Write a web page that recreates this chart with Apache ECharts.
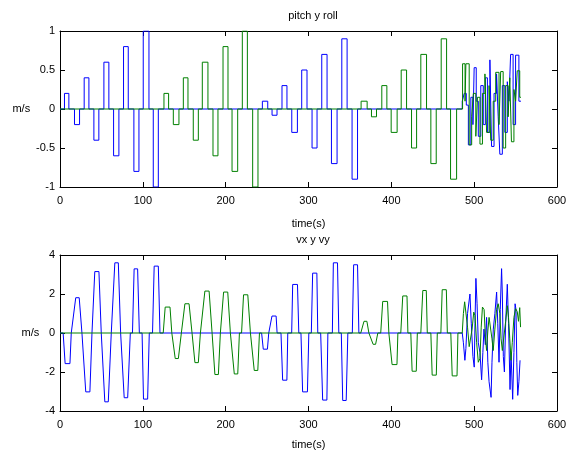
<!DOCTYPE html>
<html>
<head>
<meta charset="utf-8">
<script src="https://cdn.jsdelivr.net/npm/echarts@6/dist/echarts.min.js"></script>
<style>
  html, body { margin: 0; padding: 0; background: #fff; }
  #chart { width: 570px; height: 456px; }
</style>
</head>
<body>
<div id="chart"></div>
<script>
// x / y ticks
const timeTicks = [0, 100, 200, 300, 400, 500, 600];
const pitchTicks = [-1, -0.5, 0, 0.5, 1];
const velTicks = [-4, -2, 0, 2, 4];

// top plot: rectangular pulses [start, end, value]
const pitchPulsesA = [
  [5.4, 10.7, 0.2], [17.5, 23.6, -0.2], [29.2, 34.9, 0.4], [40.9, 46.9, -0.4],
  [53, 59, 0.6], [64.7, 71.1, -0.6], [76.7, 82.4, 0.8], [89.2, 95.3, -0.8],
  [100.5, 107.4, 1.0], [112.6, 118.7, -1.0],
  [244.3, 250.8, 0.1], [256, 262, -0.08], [268, 274, 0.3], [279.8, 286.6, -0.3],
  [291.8, 298.2, 0.5], [304.3, 310.3, -0.5], [316, 322.4, 0.7], [327.7, 334.5, -0.7],
  [340.2, 346.6, 0.9], [352.6, 359.2, -0.9]
];
const rollPulsesA = [
  [125.5, 131.1, 0.2], [136.8, 143.6, -0.2], [148.9, 154.5, 0.4], [160.9, 167, -0.4],
  [171.8, 178.6, 0.6], [184.7, 190.7, -0.6], [196.8, 202.8, 0.8], [207.7, 214.5, -0.8],
  [220.1, 226.2, 1.0], [232.6, 239, -1.0],
  [363.5, 370.8, 0.1], [376, 382.1, -0.1], [388.5, 394.6, 0.3], [399.8, 407, -0.3],
  [411.9, 418.4, 0.5], [424.4, 430.5, -0.5], [435.6, 442.5, 0.7], [447.7, 454.2, -0.7],
  [460.2, 466.7, 0.9], [471.5, 478.8, -0.9]
];
// top plot: last irregular part [time, value] (held until next time)
const pitchTail = [
  [485.6, 0.1], [488, 0.2], [490.5, 0.05], [493, -0.46], [496, 0.15], [498.5, -0.2],
  [500, 0.53], [502.5, 0.1], [505, -0.35], [508, 0.3], [511, -0.2], [513.5, 0.4],
  [516, -0.3], [519, 0.63], [521, -0.48], [524, 0.2], [527, 0.45], [529, -0.1],
  [531, -0.58], [534, 0.3], [537, -0.3], [540, 0.35], [542, 0.1], [544, 0.7],
  [547, -0.2], [550, 0.69], [554, 0.1], [556.5, 0.1]
];
const rollTail = [
  [486, 0.58], [489, 0.1], [490, 0.58], [494, -0.46], [497, -0.1], [499, 0.2],
  [502, -0.35], [504, 0.15], [507, -0.45], [510, 0.2], [513, 0.45], [515, -0.3],
  [518, 0.3], [520, -0.4], [523, 0.1], [526, 0.47], [530, -0.2], [532, 0.48],
  [535, -0.5], [538, 0.3], [541, -0.1], [543, 0.4], [545, -0.42], [548, 0.25],
  [550, 0.1], [552, 0.49], [555, 0.15], [556.5, 0.15]
];

// bottom plot: pulses [zero start, reach peak, leave peak, zero end, peak]
const vxPulses = [
  [3.8, 6.2, 12, 13.6, -1.57], [15.8, 19, 23.2, 26.5, 1.81],
  [28.7, 31.1, 36.1, 38.6, -3.02], [40, 42, 47, 49.8, 3.15],
  [52.1, 54.1, 58.3, 61.9, -3.53], [64.1, 66.2, 70.4, 73.2, 3.6],
  [75.4, 77.5, 81.7, 84.9, -3.32], [87.5, 89.5, 93.7, 95.8, 3.29],
  [99.1, 100.8, 105.8, 107.8, -3.39], [111.7, 113.7, 118.7, 120.7, 3.43],
  [243.4, 245.4, 250.4, 252, -0.83], [254.3, 255.9, 260.9, 262.1, 0.87],
  [266.8, 268.8, 273.9, 275, -2.42], [279.7, 280.9, 286.7, 288.3, 2.49],
  [290.9, 292.9, 298.7, 300.4, -3.02], [303.4, 305, 310.1, 311.2, 3.07],
  [314.7, 317.1, 322.2, 323.4, -3.44], [328.8, 330, 335, 336.6, 3.6],
  [339.6, 341.3, 345.5, 347.5, -3.46], [352.9, 354.5, 359.2, 360.8, 3.5]
];
const vyPulses = [
  [124.6, 127, 132.8, 135, 1.33], [135, 139.1, 142.9, 146.5, -1.31],
  [148, 150.8, 155.8, 159.4, 1.5], [160.8, 162.9, 167, 169.5, -1.52],
  [171.7, 174.9, 180, 183.6, 2.15], [185, 187, 191.2, 193.6, -2.13],
  [195.1, 197.5, 202.5, 205.7, 2.1], [208, 210.4, 214.6, 216.6, -2.1],
  [219.2, 221.6, 226.7, 229.9, 1.96], [232.1, 234.5, 238.8, 240.8, -1.92],
  [363.1, 367, 370.5, 372.9, 0.6], [375.1, 378, 381, 383.7, -0.58],
  [387.2, 389.6, 395.4, 397, 1.62], [399.3, 400.9, 406.8, 407.9, -1.62],
  [411.4, 413.8, 418.9, 420, 1.9], [423.5, 425.1, 430.1, 431.4, -1.96],
  [435.6, 438, 442.2, 443.4, 2.18], [447.7, 449.3, 454.3, 455.5, -2.16],
  [459.8, 461.4, 466.4, 467.6, 2.22], [471.8, 473.5, 479.3, 480.4, -2.2]
];
// bottom plot: last irregular part [time, value]
const vxTail = [
  [485.6, 0], [487, -0.5], [488.8, -1.4], [490, -0.8], [492, 1.0], [494.9, 2.0], [496.5, 0.5],
  [498.5, -1.2], [500.1, -1.75], [501, 0.5], [502.1, 2.8], [503.5, 1.5], [505, -0.5], [507, -1.0],
  [509, -2.4], [510.5, -1.0], [511.8, 0.2], [513.5, -0.6], [515, 0.8], [516.5, -1.5], [518, -2.5],
  [520.4, -3.3], [521.5, -1.5], [523.1, 0.2], [525, 1.0], [527.1, 2.1], [528.5, 0.5], [530, -1.5],
  [531.5, 1.2], [533.1, 3.3], [534, 2.0], [535.2, -1.2], [536.5, -2.0], [538, 0.5], [540, 2.5],
  [541.5, 0.5], [543.3, -2.9], [544.5, -1.0], [546.5, -3.4], [548, -1.0], [549.4, 1.5],
  [550.5, 1.2], [551.5, -1.5], [552.6, -3.2], [554, -2.5], [555.4, -1.4]
];
const vyTail = [
  [485.6, 0], [487, 1.0], [488.5, 1.6], [490.5, 1.5], [492, 0.3], [494, -0.7], [496, -0.6],
  [497.5, 0.2], [499.5, 1.07], [501, 0.9], [503, -0.5], [505, -1.5], [507, -1.3], [508.5, 0.3],
  [510, 1.33], [512, 1.2], [513.5, -0.2], [515, -0.9], [516.5, 0.1], [518, 0.8], [520, 0.7],
  [521.5, -0.3], [523, -0.9], [525, 0.2], [527, 1.2], [529, 1.5], [531, 1.0], [532.5, -0.3],
  [534, -0.9], [536, -0.8], [538, 0.6], [540, 1.4], [541.5, 0.8], [543, -0.3], [544.5, -1.4],
  [546, -0.5], [548, 0.8], [550, 1.25], [552, 1.1], [553.5, 0.6], [555, 1.3], [556, 0.3]
];

// build step data: value holds from start to end
function stepData(pulses, tail) {
  const d = [[0, 0]];
  pulses.forEach(p => {
    d.push([p[0], p[2]]);
    d.push([p[1], 0]);
  });
  return d.concat(tail);
}
// build trapezoid data for the velocity plot
function trapData(pulses, tail) {
  const d = [[0, 0]];
  pulses.forEach(p => {
    d.push([p[0], 0], [p[1], p[4]], [p[2], p[4]], [p[3], 0]);
  });
  return d.concat(tail);
}

const FONT = 'Liberation Sans';
const BLUE = '#0000ff';
const GREEN = '#008000';

function xAxes(gridIndex, gap) {
  const base = {
    type: 'value', gridIndex: gridIndex,
    min: timeTicks[0], max: timeTicks[timeTicks.length - 1], interval: timeTicks[1] - timeTicks[0],
    axisLine: { show: true, onZero: false, lineStyle: { color: '#000', width: 1 } },
    axisTick: { show: true, inside: true, length: 5, lineStyle: { color: '#000' } },
    splitLine: { show: false }
  };
  return [
    Object.assign({}, base, {
      position: 'bottom',
      name: 'time(s)', nameLocation: 'middle', nameGap: gap,
      nameTextStyle: { color: '#000', fontSize: 11, fontFamily: FONT },
      axisLabel: { color: '#000', fontSize: 11, fontFamily: FONT, margin: 8 }
    }),
    Object.assign({}, base, { position: 'top', axisLabel: { show: false } })
  ];
}
function yAxes(gridIndex, ticks) {
  const base = {
    type: 'value', gridIndex: gridIndex,
    min: ticks[0], max: ticks[ticks.length - 1], interval: ticks[1] - ticks[0],
    axisLine: { show: true, onZero: false, lineStyle: { color: '#000', width: 1 } },
    axisTick: { show: true, inside: true, length: 5, lineStyle: { color: '#000' } },
    splitLine: { show: false }
  };
  return [
    Object.assign({}, base, {
      position: 'left',
      name: 'm/s', nameLocation: 'middle', nameRotate: 0, nameGap: 15,
      nameTextStyle: { color: '#000', fontSize: 11, fontFamily: FONT },
      axisLabel: { color: '#000', fontSize: 11, fontFamily: FONT, margin: 5 }
    }),
    Object.assign({}, base, { position: 'right', axisLabel: { show: false } })
  ];
}

const chart = echarts.init(document.getElementById('chart'), null, { renderer: 'canvas' });

const lineBase = { type: 'line', showSymbol: false, symbol: 'none', animation: false };

const option = {
  animation: false,
  backgroundColor: '#fff',
  title: [
    { text: 'pitch y roll', left: 308, top: 5, textAlign: 'center',
      textStyle: { color: '#000', fontSize: 11, fontWeight: 'normal', fontFamily: FONT } },
    { text: 'vx y vy', left: 308, top: 229, textAlign: 'center',
      textStyle: { color: '#000', fontSize: 11, fontWeight: 'normal', fontFamily: FONT } }
  ],
  grid: [
    { left: 60, right: 13, top: 31, height: 156 },
    { left: 60, right: 13, top: 255, height: 156 }
  ],
  xAxis: xAxes(0, 31).concat(xAxes(1, 28)),
  yAxis: yAxes(0, pitchTicks).concat(yAxes(1, velTicks)),
  series: [
    Object.assign({}, lineBase, {
      name: 'pitch', xAxisIndex: 0, yAxisIndex: 0, step: 'end',
      data: stepData(pitchPulsesA, pitchTail),
      lineStyle: { color: BLUE, width: 1 }
    }),
    Object.assign({}, lineBase, {
      name: 'roll', xAxisIndex: 0, yAxisIndex: 0, step: 'end',
      data: stepData(rollPulsesA, rollTail),
      lineStyle: { color: GREEN, width: 1 }
    }),
    Object.assign({}, lineBase, {
      name: 'vx', xAxisIndex: 2, yAxisIndex: 2,
      data: trapData(vxPulses, vxTail),
      lineStyle: { color: BLUE, width: 1 }
    }),
    Object.assign({}, lineBase, {
      name: 'vy', xAxisIndex: 2, yAxisIndex: 2,
      data: trapData(vyPulses, vyTail),
      lineStyle: { color: GREEN, width: 1 }
    })
  ]
};
chart.setOption(option);
</script>
</body>
</html>
